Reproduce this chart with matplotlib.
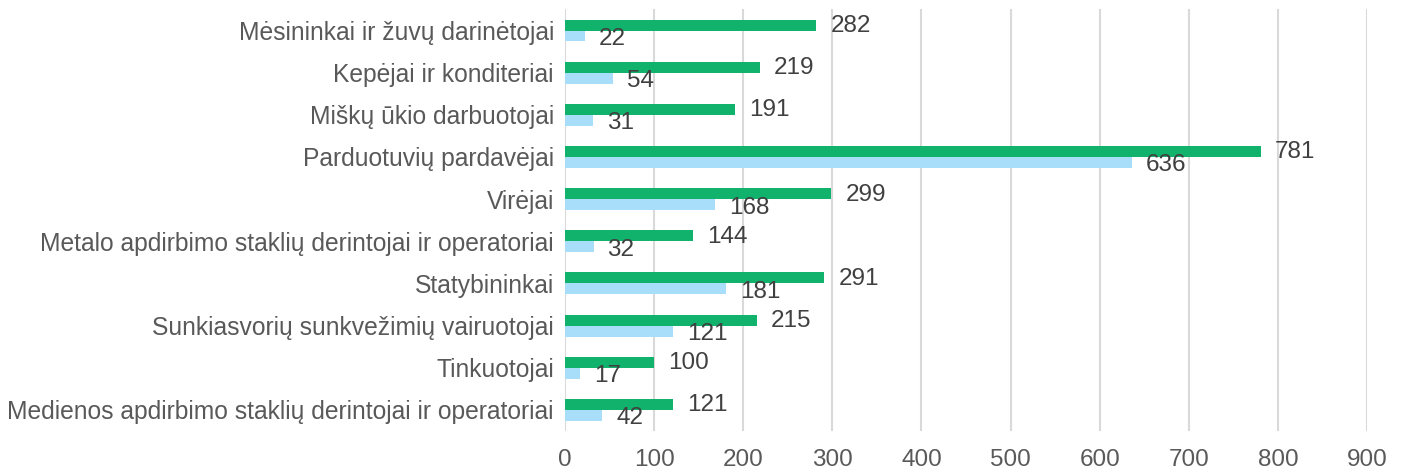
import matplotlib
matplotlib.use("Agg")

import matplotlib.pyplot as plt
import numpy as np

CATEGORIES = [
    "Mėsininkai ir žuvų darinėtojai",
    "Kepėjai ir konditeriai",
    "Miškų ūkio darbuotojai",
    "Parduotuvių pardavėjai",
    "Virėjai",
    "Metalo apdirbimo staklių derintojai ir operatoriai",
    "Statybininkai",
    "Sunkiasvorių sunkvežimių vairuotojai",
    "Tinkuotojai",
    "Medienos apdirbimo staklių derintojai ir operatoriai",
]
GREEN_VALUES = [282, 219, 191, 781, 299, 144, 291, 215, 100, 121]
BLUE_VALUES = [22, 54, 31, 636, 168, 32, 181, 121, 17, 42]
X_TICKS = [0, 100, 200, 300, 400, 500, 600, 700, 800, 900]

GREEN = "#10B26C"
BLUE = "#A9DEFA"
GRID_COLOR = "#D9D9D9"
LABEL_COLOR = "#595959"
VALUE_COLOR = "#404040"
FONT = "Liberation Sans"
LABEL_SIZE = 17.7
VALUE_SIZE = 17.5
BAR_H = 0.26

fig = plt.figure(figsize=(14.02, 4.72), dpi=100)
ax = fig.add_axes([0.403, 0.087, 0.572, 0.893])

y = np.arange(len(CATEGORIES))
ax.barh(y - BAR_H / 2, GREEN_VALUES, height=BAR_H, color=GREEN, zorder=3)
ax.barh(y + BAR_H / 2, BLUE_VALUES, height=BAR_H, color=BLUE, zorder=3)

for yi, g, b in zip(y, GREEN_VALUES, BLUE_VALUES):
    ax.annotate(str(g), (g, yi - BAR_H / 2), xytext=(14, -1), textcoords="offset pixels",
                ha="left", va="center", fontsize=VALUE_SIZE, color=VALUE_COLOR, family=FONT, zorder=4)
    ax.annotate(str(b), (b, yi + BAR_H / 2), xytext=(14, -3), textcoords="offset pixels",
                ha="left", va="center", fontsize=VALUE_SIZE, color=VALUE_COLOR, family=FONT, zorder=4)

ax.set_xlim(0, 900)
ax.set_ylim(len(CATEGORIES) - 0.5, -0.5)
ax.set_xticks(X_TICKS)
ax.set_xticklabels([str(t) for t in X_TICKS], fontsize=VALUE_SIZE, color=LABEL_COLOR, family=FONT)
ax.set_yticks(y)
ax.set_yticklabels(CATEGORIES, fontsize=LABEL_SIZE, color=LABEL_COLOR, family=FONT)
ax.tick_params(axis="both", length=0)
ax.tick_params(axis="x", pad=13)
ax.tick_params(axis="y", pad=8)
ax.grid(axis="x", color=GRID_COLOR, lw=1.5, zorder=0)
for spine in ax.spines.values():
    spine.set_visible(False)

fig.savefig("out.png", dpi=100)
